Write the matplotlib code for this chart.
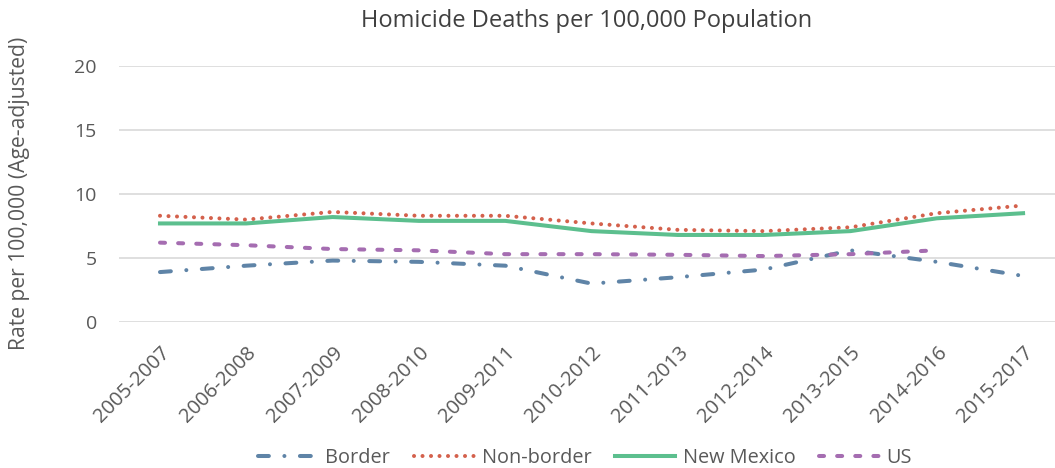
import matplotlib

matplotlib.use("Agg")
import matplotlib.pyplot as plt

plt.rcParams["font.family"] = ["Open Sans", "DejaVu Sans"]

periods = [
    "2005-2007", "2006-2008", "2007-2009", "2008-2010", "2009-2011", "2010-2012",
    "2011-2013", "2012-2014", "2013-2015", "2014-2016", "2015-2017",
]
border = [3.9, 4.4, 4.8, 4.7, 4.4, 3.0, 3.5, 4.1, 5.6, 4.7, 3.6]
non_border = [8.3, 8.0, 8.6, 8.3, 8.3, 7.7, 7.2, 7.1, 7.4, 8.5, 9.1]
new_mexico = [7.7, 7.7, 8.2, 7.9, 7.9, 7.1, 6.8, 6.8, 7.1, 8.1, 8.5]
us = [6.2, 6.0, 5.7, 5.6, 5.3, 5.3, 5.25, 5.15, 5.3, 5.6]

TEXT = "#595959"
LW = 2.9

fig = plt.figure(figsize=(10.55, 4.68), dpi=100)
ax = fig.add_axes([119 / 1055, 1 - 322 / 468, (1055 - 119) / 1055, (322 - 66) / 468])

x = list(range(len(periods)))
ax.plot(x, border, color="#5f84a7", linewidth=LW, dashes=(2.7, 3.85, 0.01, 3.85),
        dash_capstyle="round", label="Border")
ax.plot(x, non_border, color="#d4614c", linewidth=LW, dashes=(0.01, 2.1),
        dash_capstyle="round", label="Non-border")
ax.plot(x, new_mexico, color="#5cbf8e", linewidth=LW, label="New Mexico")
ax.plot(x[: len(us)], us, color="#a56db1", linewidth=LW, dashes=(1.25, 3.25),
        dash_capstyle="round", label="US")

ax.set_xlim(-0.475, 10.37)
ax.set_ylim(0, 20)
ax.set_yticks([0, 5, 10, 15, 20])
ax.set_xticks(x)
ax.set_xticklabels(periods, rotation=45, ha="right", rotation_mode="anchor")
ax.tick_params(axis="both", length=0, colors=TEXT)
ax.tick_params(axis="y", labelsize=14, pad=16)
ax.tick_params(axis="x", labelsize=14.5, pad=15)
ax.grid(axis="y", color="#d9d9d9", linewidth=1.2)
ax.set_axisbelow(True)
for spine in ax.spines.values():
    spine.set_visible(False)

fig.text(20 / 1055, 1 - 193 / 468, "Rate per 100,000 (Age-adjusted)", rotation=90,
         ha="center", va="center", fontsize=15.2, color=TEXT)
fig.text(587 / 1055, 1 - 21 / 468, "Homicide Deaths per 100,000 Population",
         ha="center", va="center", fontsize=17, color="#404040")

fig.legend(loc="center", bbox_to_anchor=(585 / 1055, 1 - 458 / 468), ncol=4, frameon=False,
           fontsize=14.3, labelcolor=TEXT, handlelength=3.0, handletextpad=0.4,
           columnspacing=1.2)

fig.savefig("out.png", dpi=100)
